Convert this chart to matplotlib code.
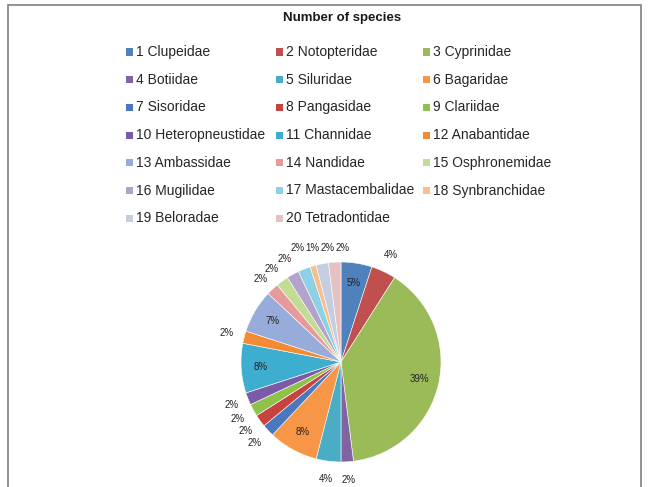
import numpy as np
import matplotlib
matplotlib.use("Agg")
import matplotlib.pyplot as plt
from matplotlib.patches import Rectangle

plt.rcParams['font.family'] = ['Liberation Sans', 'DejaVu Sans']

families = ["1 Clupeidae", "2 Notopteridae", "3 Cyprinidae", "4 Botiidae", "5 Siluridae",
            "6 Bagaridae", "7 Sisoridae", "8 Pangasidae", "9 Clariidae", "10 Heteropneustidae",
            "11 Channidae", "12 Anabantidae", "13 Ambassidae", "14 Nandidae", "15 Osphronemidae",
            "16 Mugilidae", "17 Mastacembalidae", "18 Synbranchidae", "19 Beloradae", "20 Tetradontidae"]
share = [5, 4, 39, 2, 4, 8, 2, 2, 2, 2, 8, 2, 7, 2, 2, 2, 2, 1, 2, 2]
colors = ["#4F81BD", "#C0504D", "#9BBB59", "#8064A2", "#4BACC6", "#F79646",
          "#4A78C0", "#C8433F", "#8FC24A", "#7B5BA8", "#3EAED0", "#F58A35",
          "#97ACDA", "#E79A9A", "#C3DC93", "#B3A2CC", "#8ED1E6", "#FABD8C",
          "#C5CDE0", "#E6C1C3"]
inside = [0, 2, 5, 10, 12]

W, H = 650, 487
fig = plt.figure(figsize=(W / 100, H / 100), dpi=100)
fig.patch.set_facecolor("white")

# outer frame
fig.add_artist(Rectangle((8 / W, -0.01), (641 - 8) / W, (H - 5) / H + 0.01,
                         transform=fig.transFigure, fill=False,
                         edgecolor="#7f7f7f", linewidth=1.2))

fig.text(342 / W, 1 - 18 / H, "Number of species", ha="center", va="center",
         fontsize=9.5, fontweight="bold", color="#1a1a1a")

# legend (row-wise, 3 columns)
col_x = [126, 276, 423]
row_y0, row_dy = 52, 27.7
for i, (name, c) in enumerate(zip(families, colors)):
    r, k = divmod(i, 3)
    x = col_x[k]
    y = row_y0 + r * row_dy
    fig.add_artist(Rectangle((x / W, 1 - (y + 3.5) / H), 7 / W, 7 / H,
                             transform=fig.transFigure, facecolor=c, edgecolor="none"))
    fig.text((x + 10) / W, 1 - y / H, name, ha="left", va="center",
             fontsize=10, color="#262626")

# pie
cx, cy, R = 341, 362, 100
ax = fig.add_axes([(cx - R) / W, 1 - (cy + R) / H, 2 * R / W, 2 * R / H])
wedges, _ = ax.pie(share, colors=colors, startangle=90, counterclock=False,
                   radius=1.0, wedgeprops=dict(linewidth=0.4, edgecolor="white"))
ax.set_xlim(-1, 1)
ax.set_ylim(-1, 1)
ax.set_aspect("equal")
ax.axis("off")

total = sum(share)
pos = []
for i, w in enumerate(wedges):
    mid = np.deg2rad((w.theta1 + w.theta2) / 2)
    rr = 0.8 if i in inside else 1.18
    pos.append([rr * np.cos(mid), rr * np.sin(mid)])

# outer labels near the top go onto one row, spaced apart
top_row_y = 1.14
top = [i for i in range(len(share)) if i not in inside and pos[i][1] > 1.08 and pos[i][0] < 0]
prev = None
for i in sorted(top, key=lambda j: pos[j][0]):
    x = pos[i][0] if prev is None else max(pos[i][0], prev + 0.15)
    pos[i] = [x, top_row_y]
    prev = x

# outer labels on the upper-left: keep a vertical gap below the top row
left_upper = [i for i in range(len(share)) if i not in inside and i not in top
              and pos[i][0] < 0 and pos[i][1] > 0]
last_y = top_row_y
for i in sorted(left_upper, key=lambda j: -pos[j][1]):
    y = min(pos[i][1], last_y - 0.1)
    pos[i][1] = y
    last_y = y

for i in range(len(share)):
    txt = f"{share[i] / total * 100:.0f}%"
    ax.text(pos[i][0], pos[i][1], txt, ha="center", va="center",
            fontsize=7, color="#222222", clip_on=False)

fig.savefig("out.png", dpi=100, facecolor="white")
